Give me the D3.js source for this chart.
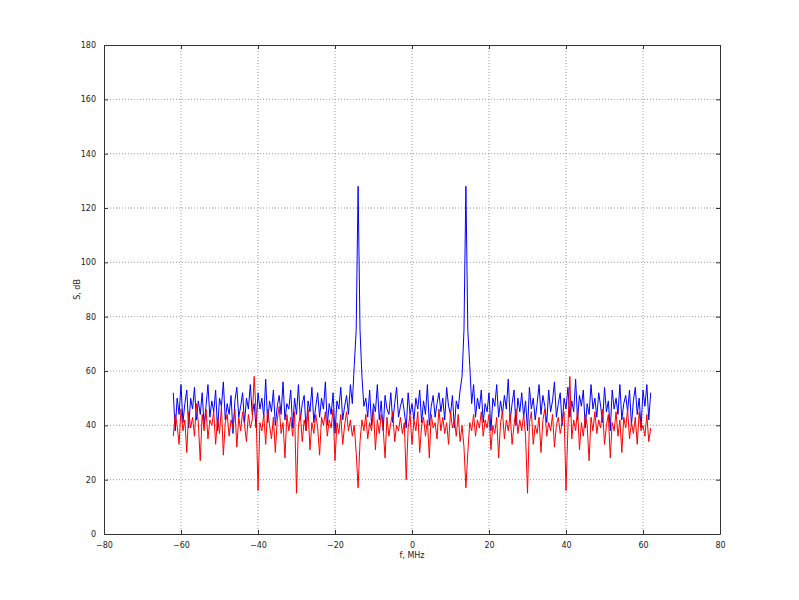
<!DOCTYPE html>
<html>
<head>
<meta charset="utf-8">
<script src="https://cdn.jsdelivr.net/npm/d3@7"></script>
<style>
  body { margin: 0; background: #fff; }
  text { font-family: "DejaVu Sans", sans-serif; font-size: 8px; fill: #222; }
</style>
</head>
<body>
<svg id="chart" width="799" height="600"></svg>
<script>
// frequency grid: -62 .. 62 MHz, step 0.5
const fStart = -62, fStep = 0.5;

const blueS = [
  52,38,50,44,55,41,48,53,39,50,46,54,42,49,44,52,40,47,55,43,
  49,45,53,38,50,47,56,42,48,44,51,37,49,54,43,47,52,41,50,46,
  55,44,48,39,52,46,50,43,57,41,49,45,53,40,47,51,44,56,42,48,
  46,53,39,50,44,55,42,48,51,38,49,45,54,41,47,52,43,50,46,56,
  40,48,44,52,37,49,46,54,42,47,51,44,55,48,62,75,128,75,58,47,
  50,43,53,40,48,45,55,42,49,38,51,46,44,52,41,48,54,43,47,50,
  45,39,52,44,48,42,50,46,53,41,49,44,55,40,47,51,43,48,52,45,
  50,42,54,47,44,51,39,49,46,53,58,75,128,75,62,48,55,43,50,46,
  53,41,48,45,52,38,50,47,55,43,49,44,51,46,57,42,48,53,40,50,
  45,52,43,49,38,54,46,50,42,48,55,44,51,47,41,53,45,49,56,43,
  48,52,40,50,46,54,43,49,45,57,42,51,47,53,39,48,44,55,46,50,
  43,52,47,41,54,45,49,38,53,46,50,44,55,42,48,51,45,53,40,49,
  54,44,50,39,53,47,55,42,52
];

const redS = [
  36,44,40,33,46,38,42,30,45,39,43,36,48,41,27,44,38,46,35,42,
  40,45,33,43,37,47,29,41,44,36,42,39,46,32,43,38,45,40,34,44,
  39,42,58,45,16,41,38,44,33,46,40,35,43,30,42,47,37,41,28,44,
  38,43,36,45,15,40,44,34,42,38,46,31,41,37,44,39,29,43,40,45,
  36,42,39,46,27,41,37,44,33,40,45,38,42,36,40,30,17,34,42,38,
  44,35,41,38,46,31,42,37,44,39,28,43,36,41,45,34,40,38,43,37,
  41,20,39,44,33,42,38,45,30,40,43,36,42,28,44,39,41,35,46,38,
  43,37,41,33,45,39,42,36,44,34,40,32,17,30,41,38,44,36,42,39,
  45,36,42,39,44,31,40,37,43,28,41,45,35,42,38,44,33,40,46,37,
  42,38,44,36,15,41,45,33,40,37,43,30,42,46,36,41,38,44,32,40,
  43,37,41,45,16,39,58,35,42,38,46,31,41,36,44,40,27,43,38,45,
  37,42,39,46,33,40,44,28,41,38,45,36,42,30,43,39,46,35,41,37,
  43,33,45,38,40,36,44,34,39
];

const xTicks = [-80, -60, -40, -20, 0, 20, 40, 60, 80];
const yTicks = [0, 20, 40, 60, 80, 100, 120, 140, 160, 180];

const m = { left: 104, right: 720, top: 45, bottom: 534 };
const svg = d3.select('#chart');

const x = d3.scaleLinear().domain([-80, 80]).range([m.left, m.right]);
const y = d3.scaleLinear().domain([0, 180]).range([m.bottom, m.top]);

// grid
svg.append('g').selectAll('line').data(xTicks.slice(1, -1)).join('line')
  .attr('x1', d => x(d)).attr('x2', d => x(d))
  .attr('y1', m.top).attr('y2', m.bottom)
  .attr('stroke', '#999').attr('stroke-dasharray', '1,2');
svg.append('g').selectAll('line').data(yTicks.slice(1, -1)).join('line')
  .attr('x1', m.left).attr('x2', m.right)
  .attr('y1', d => y(d)).attr('y2', d => y(d))
  .attr('stroke', '#999').attr('stroke-dasharray', '1,2');

const line = d3.line()
  .x((d, i) => x(fStart + i * fStep))
  .y(d => y(d));

svg.append('path').datum(blueS).attr('d', line)
  .attr('fill', 'none').attr('stroke', '#0000ff').attr('stroke-width', 1);
svg.append('path').datum(redS).attr('d', line)
  .attr('fill', 'none').attr('stroke', '#ff0000').attr('stroke-width', 1);

// axes with inward ticks
const axB = d3.axisBottom(x).tickValues(xTicks).tickSizeInner(-4).tickSizeOuter(0).tickPadding(8);
const axT = d3.axisTop(x).tickValues(xTicks).tickSizeInner(-4).tickSizeOuter(0).tickFormat('');
const axL = d3.axisLeft(y).tickValues(yTicks).tickSizeInner(-4).tickSizeOuter(0).tickPadding(8);
const axR = d3.axisRight(y).tickValues(yTicks).tickSizeInner(-4).tickSizeOuter(0).tickFormat('');

svg.append('g').attr('transform', `translate(0,${m.bottom})`).call(axB);
svg.append('g').attr('transform', `translate(0,${m.top})`).call(axT);
svg.append('g').attr('transform', `translate(${m.left},0)`).call(axL);
svg.append('g').attr('transform', `translate(${m.right},0)`).call(axR);
svg.selectAll('.domain, .tick line').attr('stroke', '#333');
svg.selectAll('.tick text').style('font-family', '"DejaVu Sans", sans-serif').style('font-size', '8px').attr('fill', '#222');

svg.append('text').attr('x', (m.left + m.right) / 2).attr('y', 558)
  .attr('text-anchor', 'middle').text('f, MHz');
svg.append('text').attr('transform', `translate(80,${(m.top + m.bottom) / 2}) rotate(-90)`)
  .attr('text-anchor', 'middle').text('S, dB');
</script>
</body>
</html>
